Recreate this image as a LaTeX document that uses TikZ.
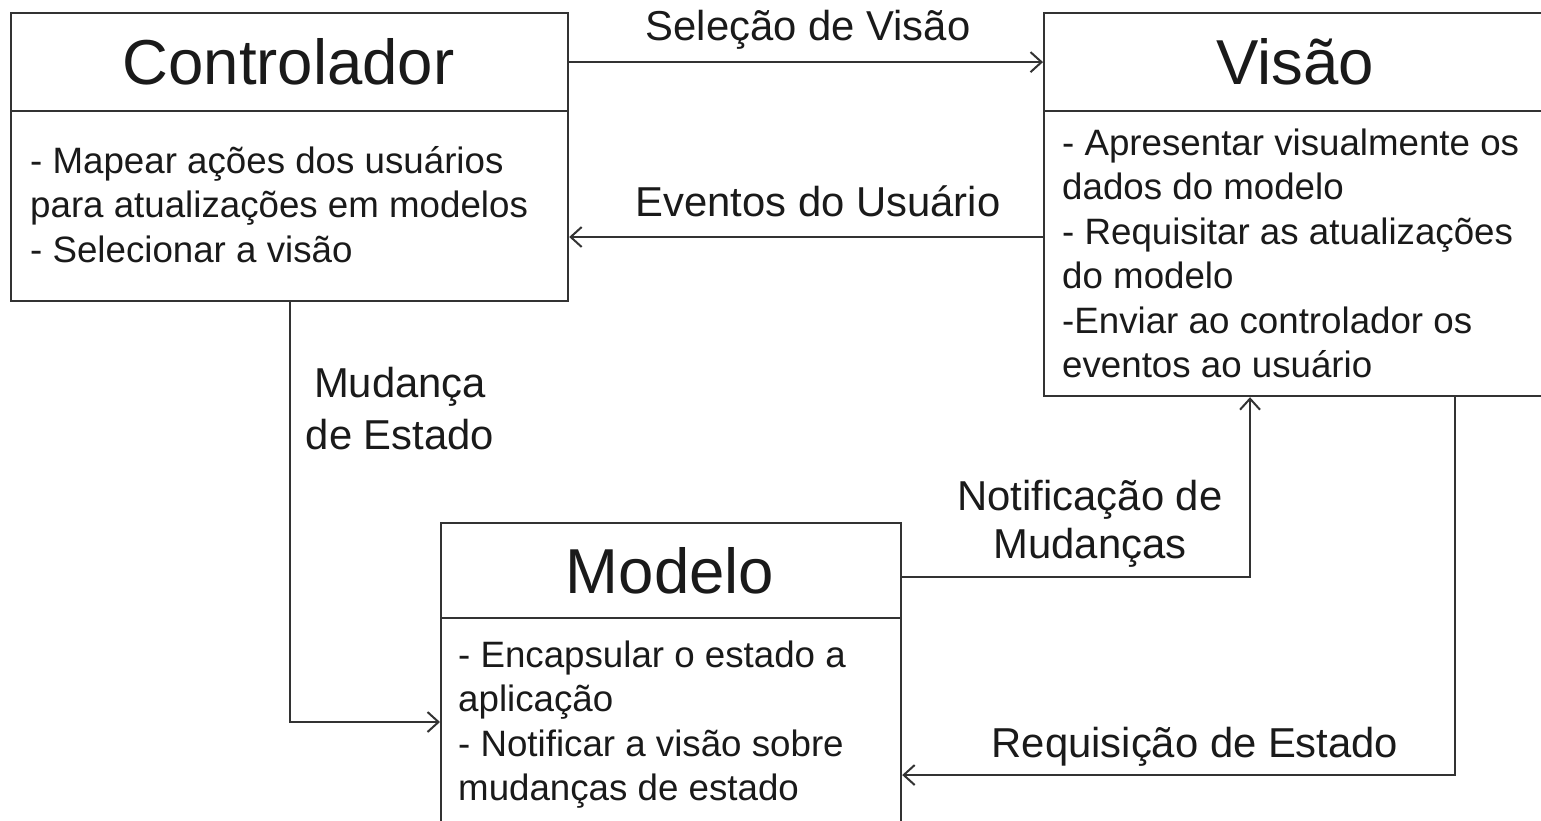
\documentclass[tikz,border=0pt]{standalone}
\usepackage{fontspec}
\setmainfont{Liberation Sans}
\usetikzlibrary{arrows.meta}
\definecolor{ln}{HTML}{333333}
\definecolor{tx}{HTML}{1A1A1A}
\tikzset{
 box/.style={draw=ln, line width=2.2pt, fill=white, inner sep=0pt, anchor=north west},
 ttl/.style={font=\fontsize{63.5}{70}\selectfont, text=tx, inner sep=0pt, anchor=base},
 body/.style={font=\fontsize{36.7}{44.5}\selectfont, text=tx, inner sep=0pt, anchor=north west, align=left},
 lbl/.style={text=tx, inner sep=0pt, align=center},
 arr/.style={draw=ln, line width=2pt, -{Straight Barb[length=11pt,width=20pt]}},
}
\begin{document}
\begin{tikzpicture}[x=1pt,y=-1pt]
\useasboundingbox (0,0) rectangle (1541,820);
\clip (0,0) rectangle (1541,820);
\fill[white] (0,0) rectangle (1541,820);
% boxes
\node[box, minimum width=557, minimum height=98] (ctrlH) at (10,12) {};
\node[box, minimum width=557, minimum height=190] (ctrlB) at (10,110) {};
\node[box, minimum width=504, minimum height=98] (visH) at (1043,12) {};
\node[box, minimum width=504, minimum height=285] (visB) at (1043,110) {};
\node[box, minimum width=460, minimum height=95] (mdlH) at (440,522) {};
\node[box, minimum width=460, minimum height=213] (mdlB) at (440,617) {};
% titles
\node[ttl] (ctrlT) at (288.5,84) {Controlador};
\node[ttl] (visT) at (1295,84) {Visão};
\node[ttl] (mdlT) at (670,593) {Modelo};
% bodies
\node[body] (ctrlX) at (30,141.85) {\strut- Mapear ações dos usuários\\para atualizações em modelos\\- Selecionar a visão};
\node[body] (visX) at (1062,123.85) {\strut- Apresentar visualmente os\\dados do modelo\\- Requisitar as atualizações\\do modelo\\-Enviar ao controlador os\\eventos ao usuário};
\node[body] (mdlX) at (458,635.85) {\strut- Encapsular o estado a\\aplicação\\- Notificar a visão sobre\\mudanças de estado};
% helper coordinates
\coordinate (ev) at (0,237);
\coordinate (mu) at (290,722);
\coordinate (nt) at (1250,577);
\coordinate (rq) at (1455,775);
% connectors
\draw[arr] (ctrlH.east) -- (visH.west);
\draw[arr] (visB.west |- ev) -- (ctrlB.east |- ev);
\draw[arr] (ctrlB.south -| mu) -- (mu) -- (mdlB.west |- mu);
\draw[arr] (mdlH.east |- nt) -- (nt) -- (visB.south -| nt);
\draw[arr] (visB.south -| rq) -- (rq) -- (mdlB.east |- rq);
% labels
\node[lbl, font=\fontsize{41.8}{50}\selectfont, anchor=base] (l1) at (808,40) {Seleção de Visão};
\node[lbl, font=\fontsize{41.8}{50}\selectfont, anchor=base] (l2) at (818,216) {Eventos do Usuário};
\node[lbl, font=\fontsize{41.8}{52}\selectfont, anchor=north] (l3) at (400,360.6) {\strut Mudança\\de Estado};
\node[lbl, font=\fontsize{41.8}{48}\selectfont, anchor=north] (l4) at (1090,476.4) {\strut Notificação de\\Mudanças};
\node[lbl, font=\fontsize{41.8}{50}\selectfont, anchor=base] (l5) at (1195,757) {Requisição de Estado};
\end{tikzpicture}
\end{document}
